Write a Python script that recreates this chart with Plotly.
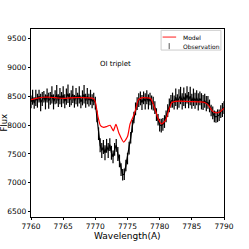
import plotly.graph_objects as go

# ---- Model (smooth synthetic spectrum) ----
model_wl = [7760, 7761, 7762, 7763, 7764, 7765, 7766, 7767, 7768, 7769, 7769.7,
            7770.0, 7770.4, 7770.8, 7771.3, 7771.8, 7772.3, 7772.8, 7773.2, 7773.7,
            7774.4, 7775.0, 7775.4, 7775.9, 7776.3, 7776.7, 7777.2, 7778.0, 7778.6,
            7779.2, 7779.8, 7780.3, 7780.9, 7781.4, 7781.9, 7782.5, 7784.0, 7786.0,
            7787.0, 7787.6, 7788.2, 7788.9, 7789.5, 7790.0]
model_flux = [8440, 8465, 8480, 8480, 8470, 8460, 8470, 8475, 8475, 8470, 8460,
              8400, 8150, 7990, 7960, 7975, 7995, 7900, 8010, 7850,
              7705, 7800, 8020, 8150, 8280, 8440, 8470, 8470, 8460,
              8300, 8100, 8020, 8080, 8250, 8390, 8410, 8410, 8400,
              8390, 8340, 8240, 8210, 8240, 8290]

# ---- Observation (0.25 A sampling, values + noise half-width) ----
obs_start = 7760.0
obs_step = 0.25
obs_flux = [
    # 7760.00 - 7769.75
    8400, 8480, 8380, 8470, 8420, 8500, 8390, 8450, 8490, 8400,
    8510, 8420, 8460, 8520, 8400, 8480, 8530, 8420, 8500, 8440,
    8520, 8410, 8490, 8540, 8430, 8470, 8530, 8410, 8500, 8440,
    8520, 8400, 8470, 8530, 8420, 8500, 8430, 8480, 8410, 8450,
    # 7770.00 - 7776.75
    8380, 8150, 7850, 7650, 7560, 7620, 7520, 7640, 7560, 7660,
    7520, 7450, 7580, 7650, 7500, 7380, 7230, 7140, 7150, 7300,
    7420, 7600, 7780, 7980, 8130, 8280, 8370, 8430,
    # 7777.00 - 7778.75
    8460, 8390, 8470, 8410, 8480, 8400, 8450, 8390,
    # 7779.00 - 7781.75
    8370, 8300, 8180, 8090, 8000, 7990, 8010, 8060, 8150, 8250, 8340, 8410,
    # 7782.00 - 7787.50
    8430, 8390, 8480, 8400, 8460, 8510, 8410, 8490, 8420, 8520,
    8430, 8500, 8410, 8480, 8420, 8470, 8400, 8460, 8410, 8390,
    8420, 8370, 8390,
    # 7787.75 - 7790.00
    8330, 8250, 8210, 8150, 8140, 8160, 8170, 8230, 8260, 8300]
obs_err = [
    110, 130, 100, 140, 120, 110, 150, 120, 100, 130,
    120, 140, 110, 150, 130, 120, 160, 110, 140, 130,
    150, 120, 140, 160, 120, 130, 150, 110, 140, 120,
    150, 110, 130, 160, 120, 140, 110, 130, 120, 110,
    110, 100, 110, 120, 130, 120, 130, 120, 130, 110,
    120, 110, 110, 110, 120, 110, 110, 100, 100, 100,
    100, 110, 100, 110, 100, 110, 110, 120,
    120, 130, 110, 140, 120, 130, 110, 120,
    120, 110, 110, 100, 110, 120, 110, 110, 100, 110, 120, 110,
    130, 120, 150, 130, 160, 150, 140, 160, 130, 150,
    140, 160, 130, 150, 140, 130, 150, 120, 140, 130,
    120, 130, 110,
    110, 100, 110, 100, 100, 110, 100, 110, 120, 110]
obs_wl = [obs_start + i * obs_step for i in range(len(obs_flux))]

x_ticks = [7760, 7765, 7770, 7775, 7780, 7785, 7790]
y_ticks = [6500, 7000, 7500, 8000, 8500, 9000, 9500]
legend_labels = ["Model", "Observation"]

FONT = "DejaVu Sans"

fig = go.Figure()

fig.add_trace(go.Scatter(
    x=obs_wl, y=obs_flux, mode="lines",
    line=dict(color="black", width=1.2),
    error_y=dict(type="data", array=obs_err, visible=True,
                 color="black", thickness=1.2, width=0),
    showlegend=False, name="Observation"))

fig.add_trace(go.Scatter(
    x=model_wl, y=model_flux, mode="lines",
    line=dict(color="red", width=1.2, shape="spline", smoothing=0.6),
    showlegend=False, name="Model"))

fig.add_annotation(x=7773.2, y=9050, text="OI triplet", showarrow=False,
                   font=dict(family=FONT, size=7, color="black"))

# compact legend box (matplotlib-style), placed in plot-area paper coordinates
fig.add_shape(type="rect", xref="paper", yref="paper",
              x0=0.674, x1=0.984, y0=0.888, y1=0.993,
              line=dict(color="#cccccc", width=1), fillcolor="white", layer="above")
fig.add_shape(type="line", xref="paper", yref="paper",
              x0=0.682, x1=0.752, y0=0.957, y1=0.957,
              line=dict(color="rgba(255,0,0,0.6)", width=1.5), layer="above")
fig.add_shape(type="line", xref="paper", yref="paper",
              x0=0.716, x1=0.716, y0=0.893, y1=0.925,
              line=dict(color="#555555", width=1), layer="above")
for label, ly in zip(legend_labels, [0.957, 0.906]):
    fig.add_annotation(xref="paper", yref="paper", x=0.778, y=ly,
                       xanchor="left", yanchor="middle", text=label,
                       showarrow=False,
                       font=dict(family=FONT, size=6, color="black"))

axis_common = dict(showline=True, linecolor="black", linewidth=1.2, mirror=True,
                   ticks="outside", ticklen=2, tickcolor="black", tickwidth=1,
                   showgrid=False, zeroline=False, automargin=False,
                   tickfont=dict(family=FONT, size=7.5, color="black"))

fig.update_xaxes(range=[7760, 7790], tickvals=x_ticks, **axis_common)
fig.update_yaxes(range=[6410, 9660], tickvals=y_ticks, **axis_common)

# axis titles as paper-anchored texts for exact placement
fig.add_annotation(xref="paper", yref="paper", x=0.5, y=-0.100,
                   xanchor="center", yanchor="middle", text="Wavelength(A)",
                   showarrow=False, font=dict(family=FONT, size=9, color="black"))
fig.add_annotation(xref="paper", yref="paper", x=-0.142, y=0.5,
                   xanchor="center", yanchor="middle", text="Flux", textangle=-90,
                   showarrow=False, font=dict(family=FONT, size=8.5, color="black"))

fig.update_layout(
    width=249, height=249,
    margin=dict(l=31, r=25, t=29, b=32, autoexpand=False),
    paper_bgcolor="white", plot_bgcolor="white",
    font=dict(family=FONT, color="black"),
    showlegend=False,
)

# remove the browser's default 8px page margin so the figure sits at (0, 0)
fig.write_html("out.html", config={"displayModeBar": False},
               post_script="document.body.style.margin='0';")
